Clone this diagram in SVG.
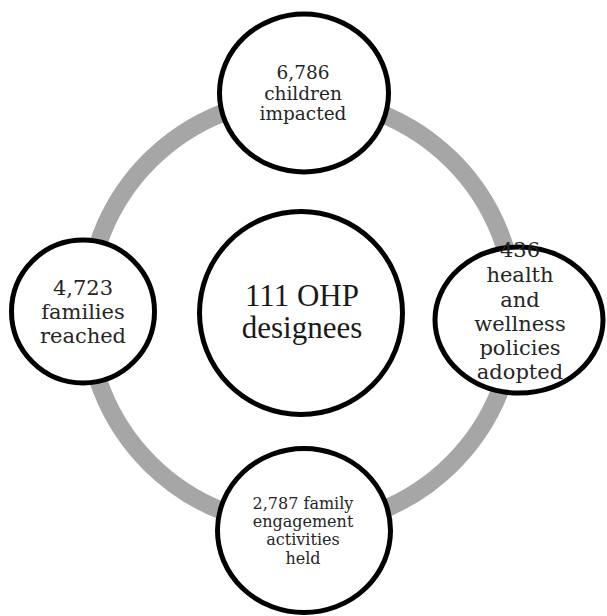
<svg xmlns="http://www.w3.org/2000/svg" width="607" height="616" viewBox="0 0 607 616">
<style>
.ring{fill:none;stroke:#A6A6A6;stroke-width:18}
.node{fill:#FFFFFF;stroke:#000000;stroke-width:5}
.lbl{font-family:"DejaVu Serif","Liberation Serif",serif;fill:#262626;text-anchor:middle}
.ctr{font-family:"Liberation Serif","DejaVu Serif",serif;fill:#1a1a1a;text-anchor:middle;font-size:31px}
</style>
<rect width="607" height="616" fill="#FFFFFF"/>
<g id="connectors">
<circle class="ring" cx="301" cy="312" r="214"/>
</g>
<g id="node-center">
<circle class="node" cx="301" cy="313" r="101.5"/>
<text class="ctr"><tspan x="302" y="306">111 OHP</tspan><tspan x="302" y="338">designees</tspan></text>
</g>
<g id="node-top">
<ellipse class="node" cx="304" cy="93" rx="84.5" ry="79"/>
<text class="lbl" font-size="18.5"><tspan x="303" y="79">6,786</tspan><tspan x="303" y="100">children</tspan><tspan x="303" y="120">impacted</tspan></text>
</g>
<g id="node-right">
<ellipse class="node" cx="519" cy="320" rx="84" ry="73"/>
<text class="lbl" font-size="21"><tspan x="520" y="257">436</tspan><tspan x="520" y="282">health</tspan><tspan x="520" y="307">and</tspan><tspan x="520" y="331">wellness</tspan><tspan x="520" y="355">policies</tspan><tspan x="520" y="379">adopted</tspan></text>
</g>
<g id="node-bottom">
<ellipse class="node" cx="304" cy="530.5" rx="86.5" ry="82"/>
<text class="lbl" font-size="16"><tspan x="303" y="509">2,787 family</tspan><tspan x="303" y="527">engagement</tspan><tspan x="303" y="545">activities</tspan><tspan x="303" y="564">held</tspan></text>
</g>
<g id="node-left">
<circle class="node" cx="83" cy="311.5" r="71.5"/>
<text class="lbl" font-size="21"><tspan x="83" y="295">4,723</tspan><tspan x="83" y="319">families</tspan><tspan x="83" y="343">reached</tspan></text>
</g>
</svg>
